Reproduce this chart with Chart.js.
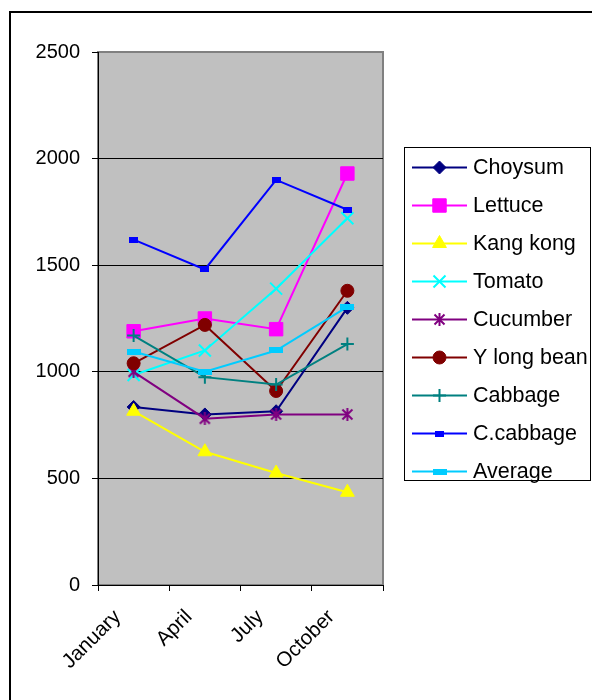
<!DOCTYPE html>
<html>
<head>
<meta charset="utf-8">
<script src="https://cdn.jsdelivr.net/npm/chart.js@4.4.0/dist/chart.umd.min.js"></script>
<style>
  html, body { margin: 0; padding: 0; background: #fff; overflow: hidden; width: 592px; height: 700px; }
  #frame { position: absolute; left: 9px; top: 11px; width: 700px; height: 800px; border: 2px solid #000; }
  #wrap { position: absolute; left: 0; top: 0; width: 592px; height: 700px; }
</style>
</head>
<body>
<div id="frame"></div>
<div id="wrap"><canvas id="c" width="592" height="700"></canvas></div>
<script>
// Quarterly prices per vegetable
const months = ['January', 'April', 'July', 'October'];
const choysum   = [835, 800, 815, 1300];
const lettuce   = [1190, 1250, 1200, 1930];
const kangKong  = [815, 625, 525, 435];
const tomato    = [985, 1100, 1390, 1720];
const cucumber  = [1000, 780, 800, 800];
const yLongBean = [1040, 1220, 910, 1380];
const cabbage   = [1170, 975, 940, 1130];
const cCabbage  = [1620, 1480, 1900, 1760];
const average   = [1095, 1000, 1100, 1305];
const yTicks    = [0, 500, 1000, 1500, 2000, 2500];

const FONT = '"Liberation Sans", Arial, sans-serif';

// Small canvas markers for shapes Chart.js has no built-in for
function barMarker(w, h, color) {
  const c = document.createElement('canvas');
  c.width = w; c.height = h;
  const g = c.getContext('2d');
  g.fillStyle = color;
  g.fillRect(0, 0, w, h);
  return c;
}
function asteriskMarker(size, color) {
  const c = document.createElement('canvas');
  c.width = size; c.height = size;
  const g = c.getContext('2d');
  g.strokeStyle = color; g.lineWidth = 2; g.lineCap = 'butt';
  const m = size / 2, e = size - 1.5;
  g.beginPath();
  g.moveTo(1.5, 1.5); g.lineTo(e, e);
  g.moveTo(e, 1.5); g.lineTo(1.5, e);
  g.moveTo(m, 0); g.lineTo(m, size);
  g.stroke();
  return c;
}

function series(label, data, color, style, radius, borderWidth, fill) {
  return {
    label, data,
    borderColor: color,
    borderWidth: 2,
    pointStyle: style,
    pointRadius: radius,
    pointHoverRadius: radius,
    pointBackgroundColor: fill || color,
    pointBorderColor: color,
    pointBorderWidth: borderWidth,
    tension: 0,
    fill: false
  };
}

const datasets = [
  series('Choysum',     choysum,   '#000080', 'rectRot', 6.5, 1),
  series('Lettuce',     lettuce,   '#FF00FF', 'rect', 9.5, 1),
  series('Kang kong',   kangKong,  '#FFFF00', 'triangle', 8, 1),
  series('Tomato',      tomato,    '#00FFFF', 'crossRot', 8.5, 2),
  series('Cucumber',    cucumber,  '#800080', asteriskMarker(13, '#800080'), 7, 0),
  series('Y long bean', yLongBean, '#800000', 'circle', 6.5, 1),
  series('Cabbage',     cabbage,   '#008080', 'cross', 6.5, 2),
  series('C.cabbage',   cCabbage,  '#0000FF', barMarker(9, 6, '#0000FF'), 5, 0),
  series('Average',     average,   '#00CCFF', barMarker(14, 6, '#00CCFF'), 7, 0)
];
// later series sit on top of earlier ones
datasets.forEach((d, i) => { d.order = datasets.length - i; });

// grey plot area with its frame
const plotBackground = {
  id: 'plotBackground',
  beforeDraw(chart) {
    const { ctx, chartArea: a } = chart;
    ctx.save();
    ctx.fillStyle = '#C0C0C0';
    ctx.fillRect(a.left, a.top, a.right - a.left, a.bottom - a.top);
    ctx.strokeStyle = '#808080';
    ctx.lineWidth = 2;
    ctx.strokeRect(a.left, a.top, a.right - a.left, a.bottom - a.top);
    ctx.restore();
  }
};

// legend box on the right: line segment + marker + name
const sideLegend = {
  id: 'sideLegend',
  afterDraw(chart) {
    const ctx = chart.ctx;
    ctx.save();
    ctx.strokeStyle = '#000';
    ctx.lineWidth = 1;
    ctx.strokeRect(404.5, 147.5, 186, 333);
    chart.data.datasets.forEach((ds, i) => {
      const y = 167.5 + i * 38;
      ctx.strokeStyle = ds.borderColor;
      ctx.lineWidth = 2;
      ctx.beginPath();
      ctx.moveTo(412, y);
      ctx.lineTo(467, y);
      ctx.stroke();
      ctx.fillStyle = ds.pointBackgroundColor;
      ctx.strokeStyle = ds.pointBorderColor;
      ctx.lineWidth = ds.pointBorderWidth;
      Chart.helpers.drawPoint(ctx, {
        pointStyle: ds.pointStyle,
        radius: ds.pointRadius,
        rotation: 0,
        borderWidth: ds.pointBorderWidth
      }, 439.5, y);
      ctx.fillStyle = '#000';
      ctx.font = '21.5px ' + FONT;
      ctx.textBaseline = 'middle';
      ctx.textAlign = 'left';
      ctx.fillText(ds.label, 473, y + 1);
    });
    ctx.restore();
  }
};

new Chart(document.getElementById('c'), {
  type: 'line',
  data: { labels: months, datasets },
  options: {
    responsive: false,
    animation: false,
    devicePixelRatio: 1,
    layout: { padding: { top: 52, right: 209, left: 0, bottom: 0 } },
    plugins: { legend: { display: false }, tooltip: { enabled: false } },
    scales: {
      x: {
        offset: true,
        grid: { offset: true, drawOnChartArea: false, tickLength: 6, tickColor: '#000', lineWidth: 1 },
        border: { color: '#000', width: 1 },
        ticks: {
          autoSkip: false, maxRotation: 45, minRotation: 45,
          color: '#000', font: { family: FONT, size: 20.5 },
          padding: 14, labelOffset: -16
        },
        afterFit(s) { s.height = 115; }
      },
      y: {
        min: 0, max: 2500,
        afterBuildTicks(s) { s.ticks = yTicks.map(v => ({ value: v })); },
        ticks: {
          color: '#000', font: { family: FONT, size: 20 }, padding: 12,
          callback: v => String(v)
        },
        grid: {
          color: c => (c.tick && c.tick.value === 2500) ? '#808080' : '#000',
          tickColor: '#000', tickLength: 6, lineWidth: 1
        },
        border: { color: '#000', width: 1 },
        afterFit(s) { s.width = 98; }
      }
    }
  },
  plugins: [plotBackground, sideLegend]
});
</script>
</body>
</html>
